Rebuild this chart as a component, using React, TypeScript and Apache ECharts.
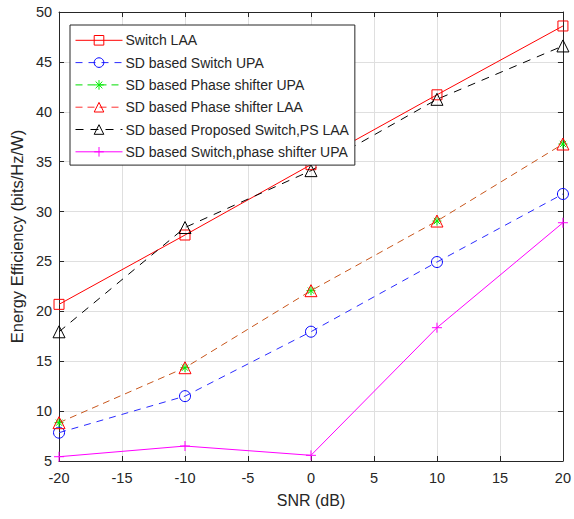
import React, { useEffect, useRef } from "react";
import * as echarts from "echarts";

const snr = [-20, -10, 0, 10, 20];
const switchLAA = [20.7, 27.65, 34.7, 41.7, 48.6];
const sdSwitchUPA = [7.84, 11.5, 17.96, 24.94, 31.76];
const sdPhaseUPA = [8.84, 14.35, 22.07, 29.05, 36.77];
const sdPhaseLAA = [8.84, 14.35, 22.07, 29.05, 36.77];
const sdProposedLAA = [17.95, 28.4, 34.1, 41.25, 46.6];
const sdSwitchPhaseUPA = [5.43, 6.5, 5.57, 18.36, 28.88];

const names = [
  "Switch LAA",
  "SD based Switch UPA",
  "SD based Phase shifter UPA",
  "SD based Phase shifter LAA",
  "SD based Proposed Switch,PS LAA",
  "SD based Switch,phase shifter UPA",
];

const FONT = 'Arial, "Liberation Sans", Helvetica, sans-serif';
const TXT = "#262626";

const pts = (vals: number[]) => snr.map((x, i) => [x, vals[i]]);

export default function App() {
  const ref = useRef<HTMLDivElement>(null);
  useEffect(() => {
    document.body.style.margin = "0";
    const chart = echarts.init(ref.current!, undefined, { renderer: "svg" });
    const axisLine = { show: true, onZero: false, lineStyle: { color: TXT, width: 1 } };
    const tick = { show: true, inside: true, length: 5, lineStyle: { color: TXT } };
    const split = { show: true, lineStyle: { color: "#dfdfdf", width: 1 } };
    const label = { color: TXT, fontSize: 14.5, fontFamily: FONT };
    const plus = "path://M5,0 L5,10 M0,5 L10,5";
    const aster = "path://M5,0 L5,10 M0,5 L10,5 M1.5,1.5 L8.5,8.5 M1.5,8.5 L8.5,1.5";
    const mk = (
      name: string,
      data: number[],
      color: string,
      lineColor: string,
      symbol: string,
      size: number,
      dash: any,
      lineOpacity = 1
    ) => ({
      name,
      type: "line",
      data: pts(data),
      symbol,
      symbolSize: size,
      showSymbol: true,
      itemStyle: { color: "none", borderColor: color, borderWidth: 1 },
      lineStyle: { color: lineColor, width: 1, type: dash, opacity: lineOpacity },
      emphasis: { disabled: true },
    });
    chart.setOption({
      animation: false,
      backgroundColor: "#ffffff",
      grid: { left: 57, right: 7, top: 12, bottom: 58 },
      xAxis: [
        {
          type: "value",
          min: -20,
          max: 20,
          interval: 5,
          name: "SNR (dB)",
          nameLocation: "middle",
          nameGap: 31,
          nameTextStyle: { color: TXT, fontSize: 16, fontFamily: FONT },
          axisLine,
          axisTick: tick,
          splitLine: split,
          axisLabel: { ...label, margin: 9 },
        },
        {
          type: "value",
          position: "top",
          min: -20,
          max: 20,
          interval: 5,
          axisLine,
          axisTick: tick,
          splitLine: { show: false },
          axisLabel: { show: false },
        },
      ],
      yAxis: [
        {
          type: "value",
          min: 5,
          max: 50,
          interval: 5,
          name: "Energy Efficiency (bits/Hz/W)",
          nameLocation: "middle",
          nameGap: 30,
          nameTextStyle: { color: TXT, fontSize: 16.5, fontFamily: FONT },
          axisLine,
          axisTick: tick,
          splitLine: split,
          axisLabel: { ...label, margin: 7 },
        },
        {
          type: "value",
          position: "right",
          min: 5,
          max: 50,
          interval: 5,
          axisLine,
          axisTick: tick,
          splitLine: { show: false },
          axisLabel: { show: false },
        },
      ],
      legend: {
        orient: "vertical",
        left: 70,
        top: 25,
        padding: [8, 6, 6, 5],
        itemWidth: 47,
        itemHeight: 12,
        itemGap: 7.7,
        backgroundColor: "#ffffff",
        borderColor: TXT,
        borderWidth: 1,
        borderRadius: 0,
        lineStyle: { width: 1 },
        itemStyle: { borderWidth: 1 },
        textStyle: { color: TXT, fontSize: 14, fontFamily: FONT, padding: [0, 0, 0, -2] },
        selectedMode: false,
        data: [
          { name: names[0] },
          { name: names[1] },
          { name: names[2], lineStyle: { color: "#00dd00", opacity: 1, width: 1 } },
          { name: names[3], lineStyle: { color: "#ff3030", width: 1 } },
          { name: names[4] },
          { name: names[5] },
        ],
      },
      series: [
        mk(names[0], switchLAA, "#ff0000", "#ff0000", "rect", 10, "solid"),
        mk(names[1], sdSwitchUPA, "#0000ff", "#2a2aff", "circle", 11, [7, 6]),
        mk(names[2], sdPhaseUPA, "#00ee00", "#00cc00", aster, 9, [7, 5], 0),
        mk(names[3], sdPhaseLAA, "#ff0000", "#c8561c", "triangle", 12, [7, 5]),
        mk(names[4], sdProposedLAA, "#000000", "#000000", "triangle", 12, [8, 7]),
        mk(names[5], sdSwitchPhaseUPA, "#ff00ff", "#ff00ff", plus, 10, "solid"),
      ],
    });
    return () => chart.dispose();
  }, []);
  return (
    <div
      ref={ref}
      style={{ position: "absolute", left: 0, top: 0, width: 574, height: 519 }}
    />
  );
}
